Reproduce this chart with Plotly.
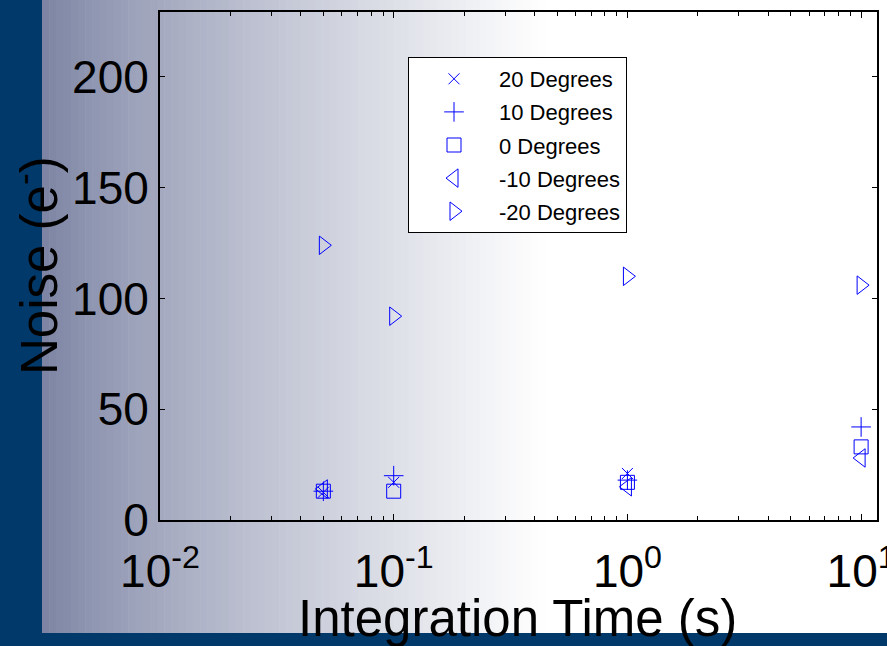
import plotly.graph_objects as go

# ---- data ----
t_20 = [0.05, 0.1, 1]
n_20 = [12.5, 17, 21]
t_10 = [0.05, 0.1, 1, 10]
n_10 = [13, 20, 18, 42]
t_0 = [0.05, 0.1, 1, 10]
n_0 = [13, 13, 17, 33]
t_m10 = [0.05, 1, 10]
n_m10 = [14, 15, 28]
t_m20 = [0.05, 0.1, 1, 10]
n_m20 = [124, 92, 110, 106]

x_tickvals = [0.01, 0.1, 1, 10]
x_ticktext = ["10<sup>-2</sup>", "10<sup>-1</sup>", "10<sup>0</sup>", "10<sup>1</sup>"]
y_tickvals = [0, 50, 100, 150, 200]

W, H = 887, 646
L, R, T, B = 160, 877, 12, 520  # plot area in pixels

def px(x):
    return (x - L) / (R - L)

def py(y):
    return (B - y) / (B - T)

BLUE = "#0000ff"
series = [
    ("20 Degrees", t_20, n_20, "x-thin", 11),
    ("10 Degrees", t_10, n_10, "cross-thin", 14),
    ("0 Degrees", t_0, n_0, "square-open", 14),
    ("-10 Degrees", t_m10, n_m10, "triangle-left-open", 16),
    ("-20 Degrees", t_m20, n_m20, "triangle-right-open", 16),
]

fig = go.Figure()
for i, (name, xs, ys, sym, sz) in enumerate(series):
    fig.add_trace(go.Scatter(
        x=xs, y=ys, mode="markers", name=name, legendgroup=f"g{i}",
        marker=dict(symbol=sym, size=sz, color=BLUE,
                    line=dict(color=BLUE, width=1)),
    ))

# invisible helper trace so the minor-tick overlay axis is drawn
fig.add_trace(go.Scatter(x=t_m20[:1], y=[None], xaxis="x2", mode="markers",
                         showlegend=False, hoverinfo="skip"))

# ---- background gradient (shapes below plot) ----
shapes = []
x0p, x1p = 42, 545
N = 70
c0 = (122, 130, 162)
for k in range(N):
    a = x0p + (x1p - x0p) * k / N
    b = x0p + (x1p - x0p) * (k + 1) / N + 0.6
    t = ((k + 0.5) / N) ** 0.8
    col = tuple(int(round(c0[j] + (255 - c0[j]) * t)) for j in range(3))
    shapes.append(dict(type="rect", xref="paper", yref="paper",
                       x0=px(a), x1=px(b), y0=py(H), y1=py(0),
                       fillcolor="rgb(%d,%d,%d)" % col, line=dict(width=0),
                       layer="below"))
shapes.append(dict(type="rect", xref="paper", yref="paper",
                   x0=px(0), x1=px(42), y0=py(H), y1=py(0),
                   fillcolor="#00396a", line=dict(width=0), layer="below"))
shapes.append(dict(type="rect", xref="paper", yref="paper",
                   x0=px(0), x1=px(W), y0=py(H), y1=py(633),
                   fillcolor="#00396a", line=dict(width=0), layer="below"))

font_family = "Liberation Sans, Arial, sans-serif"

minor_vals = [m * 10 ** e for e in (-2, -1, 0) for m in range(2, 10)]
x_range = [-2, 1.068]

fig.update_layout(
    width=W, height=H,
    margin=dict(l=L, r=W - R, t=T, b=H - B, autoexpand=False),
    paper_bgcolor="white", plot_bgcolor="white",
    font=dict(family=font_family, color="black"),
    shapes=shapes,
    showlegend=True,
    legend=dict(
        x=px(408), y=py(57), xanchor="left", yanchor="top",
        bgcolor="white", bordercolor="black", borderwidth=1,
        font=dict(size=22, family=font_family, color="black"),
        itemwidth=80, tracegroupgap=1.5,
    ),
    xaxis=dict(
        type="log", range=x_range, automargin=False,
        tickmode="array", tickvals=x_tickvals, ticktext=x_ticktext,
        ticks="inside", ticklen=6, tickwidth=1, tickcolor="black",
        showline=True, linecolor="black", linewidth=2, mirror="ticks",
        showgrid=False, zeroline=False,
        tickfont=dict(size=46, family=font_family, color="black"),
        ticklabelstandoff=10, ticklabeloverflow="allow",
    ),
    xaxis2=dict(
        type="log", range=x_range, overlaying="x", anchor="y", side="bottom",
        automargin=False,
        tickmode="array", tickvals=minor_vals, showticklabels=False,
        ticks="inside", ticklen=4, tickwidth=1, tickcolor="black",
        showline=False, mirror="ticks", showgrid=False, zeroline=False,
    ),
    yaxis=dict(
        range=[0, 229.3], automargin=False,
        tickmode="array", tickvals=y_tickvals,
        ticks="inside", ticklen=5, tickwidth=1, tickcolor="black",
        showline=True, linecolor="black", linewidth=2, mirror="ticks",
        showgrid=False, zeroline=False,
        tickfont=dict(size=46, family=font_family, color="black"),
    ),
    annotations=[
        dict(text="Integration Time (s)", xref="paper", yref="paper",
             x=px(517), y=py(618), xanchor="center", yanchor="middle",
             showarrow=False, font=dict(size=51, family=font_family, color="black")),
        dict(text="Noise (e<sup>-</sup>)", xref="paper", yref="paper",
             x=px(36), y=py(266), xanchor="center", yanchor="middle",
             textangle=-90, showarrow=False,
             font=dict(size=51, family=font_family, color="black")),
    ],
)

fig.write_html("out.html")
